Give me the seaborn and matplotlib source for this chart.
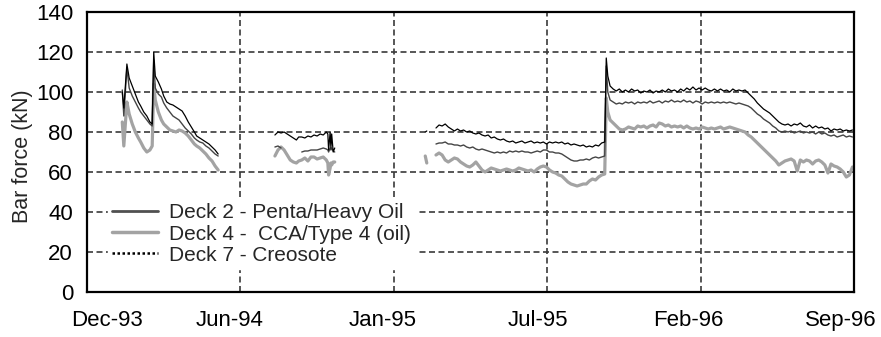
import numpy as np
import pandas as pd
import matplotlib
matplotlib.use("Agg")
import matplotlib.pyplot as plt
import matplotlib.dates as mdates
from matplotlib.lines import Line2D
from matplotlib.transforms import ScaledTranslation
import seaborn as sns

nan = np.nan

# ---------------- data ----------------
record_start = "1993-12-07"          # day 0 of the record / axis origin
axis_days = 1000                      # axis spans 1000 days
tick_step_days = 200

# sample days (days since record_start); NaN rows in the value lists break the lines
sample_day = (
    [46, 48, 52, 55, 59, 63, 67, 70, 74, 78, 82, 85, 87, 89, 93, 97, 100, 104,
     108, 112, 116, 120, 124, 128, 132, 136, 140, 143, 147, 151, 155, 159, 163, 167, 171]
    + [208]
    + [245, 249, 253, 257, 261, 265, 269, 273, 276, 280, 284, 288, 292, 296, 300,
       304, 308, 312, 314, 315, 317, 318, 319, 321, 323]
    + [380]
    + [441, 443]
    + [448]
    + list(range(455, 676, 4))
    + [677, 679]
    + list(range(682, 999, 4))
)

deck7_kn = (
    [100, 92, 114, 107, 103, 99, 95, 93, 90, 88, 85, 84, 120, 108, 105, 101.5, 98, 95,
     94, 93.5, 92.5, 91.5, 90.5, 88, 85, 82.5, 80, 78, 77, 76, 75, 74, 72.5, 71, 69]
    + [nan]
    + [78.5, 80, 79.5, 80, 79, 78, 77, 76, 77.5, 77.5, 77, 78, 77.5, 78.5, 78, 79,
       78.5, 80, 79, 71, 80, 72, 79, 70, 72]
    + [nan]
    + [80, 80.5]
    + [nan]
    + [82, 83.5, 83, 84, 82.5, 81.5, 80.5, 81.5, 80.5, 81, 80, 80.5, 79.5, 79, 79.5,
       78.5, 78, 78.5, 77, 77.5, 76.5, 76, 76.5, 75.5, 75, 75.5, 74.5, 75, 75.5, 74.5,
       75, 75.5, 74.5, 75, 74.5, 75, 74, 75, 74.5, 75, 74.5, 75, 74, 74.5, 73.5, 74,
       73.5, 73, 73.5, 72.5, 73, 72.5, 73.5, 73, 74.5, 75]
    + [117, 108]
    + [103, 101.5, 100.5, 101.5, 100, 101, 100, 101.5, 100.5, 101, 99.5, 100.5, 100,
       101, 99.5, 100.5, 100, 101, 100, 101.5, 100.5, 101, 100, 101.5, 100.5, 102, 101,
       102.5, 101, 102, 101, 102, 101, 100.5, 101.5, 100.5, 101.5, 100.5, 101, 100,
       101.5, 100.5, 101, 100.5, 101, 99.5, 98, 96.5, 94.5, 93, 91.5, 90.5, 89.5, 88,
       86.5, 85, 84, 83.5, 84, 83, 84, 83.5, 84.5, 83, 82.5, 83.5, 82, 83, 82, 82.5,
       81.5, 82, 80.5, 81.5, 81, 81.5, 80.5, 81, 80.5, 81]
)

deck2_kn = (
    [101, 88, 112, 102, 98, 95, 92, 90, 88, 86, 84, 83, 116, 102, 99, 97.5, 94.5, 92,
     90, 88, 87, 86, 84, 82, 80.5, 79, 77, 76, 75, 74.5, 73, 72, 70.5, 69, 68]
    + [nan]
    + [72.5, 73, 72, nan, nan, nan, nan, nan, nan, 70, 70.5, 70.5, 71, 71, 71, 71.5,
       72, 71.5, 71, 70, 72, 71, 72, 70.5, 70]
    + [nan]
    + [nan, nan]
    + [nan]
    + [74, 74.5, 74.5, 75, 74, 74, 73.5, 73.5, 73, 73.5, 72.5, 72, 72.5, 71.5, 71,
       71.5, 71, 70.5, 70, 69.5, 70, 69.5, 70, 69.5, 70.5, 70, 70.5, 70, 70.5, 70, 70,
       69.5, 70, 70.5, 70, 71, 71, 70, 70, 69.5, 69.5, 69, 68, 67, 66, 65.5, 65.5, 66,
       66, 66.5, 66, 67, 67.5, 67, 67.5, 68]
    + [113, 100]
    + [96, 95, 94, 94.5, 94, 95, 94.5, 95, 94, 95, 94.5, 95, 94.5, 95.5, 94.5, 95,
       95.5, 94.5, 95.5, 95, 96, 95, 95.5, 95, 96, 95, 95.5, 94.5, 95.5, 95, 94, 95,
       94.5, 95, 94.5, 95, 94.5, 95, 94.5, 95, 94.5, 94, 94.5, 94, 93.5, 93, 92, 90.5,
       89, 88, 86.5, 85.5, 84.5, 83, 82, 80.5, 80, 80.5, 80, 80.5, 79.5, 80, 80.5, 79.5,
       80, 79.5, 80, 79, 80, 79, 79.5, 78.5, 78, 78.5, 77.5, 78, 78.5, 77.5, 78, 77.5]
)

deck4_kn = (
    [85, 73, 95, 89, 84, 80, 77, 75, 72, 70, 71, 73, 104, 96, 90, 86, 84, 82.5, 81,
     80.5, 80, 81, 80.5, 79.5, 78, 76, 74, 73, 72, 70.5, 69, 67, 65.5, 63, 61]
    + [nan]
    + [68, 71, 72.5, 71, 68.5, 66, 65, 64.5, 65.5, 66, 67, 65.5, 67.5, 67.5, 66.5, 67,
       67.5, 66, 64.5, 58.5, 62, 64.5, 63.5, 65, 65]
    + [nan]
    + [68, 64.5]
    + [nan]
    + [68.5, 69.5, 68.5, 66, 65, 66, 67, 66.5, 65, 64, 63, 62.5, 63.5, 65, 63, 61, 60,
       61, 62, 61.5, 61, 60.5, 61, 61.5, 61, 60.5, 61, 62, 61.5, 61, 60.5, 61, 60, 61.5,
       62.5, 63, 62.5, 61, 60, 59.5, 58.5, 58, 56.5, 55, 54, 53.5, 53, 53.5, 54, 54,
       55.5, 56.5, 56, 57.5, 58.5, 59]
    + [97, 90]
    + [86, 84.5, 83, 81.5, 81, 81.5, 82.5, 82, 81.5, 83, 82.5, 83, 82, 83, 83.5, 82.5,
       84.5, 84, 83, 83.5, 82.5, 83, 82.5, 83, 82, 83, 82, 81.5, 82, 81.5, 82.5, 82,
       81.5, 82, 81.5, 82, 82.5, 81.5, 82, 82.5, 82, 81.5, 81, 80.5, 80, 78.5, 77.5, 76,
       74.5, 73, 71.5, 70, 68.5, 67, 65.5, 63.5, 64.5, 65.5, 66, 66.5, 65.5, 60.5, 66,
       65, 66, 65.5, 64, 65.5, 66, 65, 63.5, 59.5, 64, 63, 62.5, 61.5, 60, 57.5, 58.5, 62.5]
)

series_labels = ["Deck 2 - Penta/Heavy Oil", "Deck 4 -  CCA/Type 4 (oil)", "Deck 7 - Creosote"]
y_ticks = [0, 20, 40, 60, 80, 100, 120, 140]

# ---------------- style ----------------
sns.set_style("white")
plt.rcParams["font.family"] = ["Liberation Sans", "DejaVu Sans"]

fig = plt.figure(figsize=(8.81, 3.37), dpi=100)
ax = fig.add_axes([87 / 881, 1 - 292 / 337, 767 / 881, 280 / 337])

t0 = pd.Timestamp(record_start)
dates = t0 + pd.to_timedelta(sample_day, unit="D")

grid_kw = dict(color="#3a3a3a", linewidth=1.2, linestyle=(0, (3.6, 2.1)))
ax.set_axisbelow(True)

styles = [
    (deck4_kn, "#a3a3a3", 2.3, 2),
    (deck2_kn, "#454545", 1.0, 3),
    (deck7_kn, "#000000", 0.9, 4),
]
for vals, col, lw, z in styles:
    df = pd.DataFrame({"date": dates, "force": vals})
    df["seg"] = df["force"].isna().cumsum()
    df = df.dropna()
    sns.lineplot(data=df, x="date", y="force", units="seg", estimator=None,
                 color=col, linewidth=lw, ax=ax, legend=False, sort=False, zorder=z)

ax.set_xlim(t0, t0 + pd.Timedelta(days=axis_days))
ax.set_ylim(0, 140)
ax.set_yticks(y_ticks)
xt = pd.date_range(t0, periods=axis_days // tick_step_days + 1, freq=f"{tick_step_days}D")
ax.set_xticks(xt)
ax.xaxis.set_major_formatter(mdates.DateFormatter("%b-%y"))
ax.grid(True, **grid_kw)

ax.set_xlabel("")
ax.set_ylabel("Bar force (kN)", fontsize=15.5)
ax.yaxis.set_label_coords(-0.07, 0.485)

for s in ax.spines.values():
    s.set_visible(True)
    s.set_color("black")
    s.set_linewidth(1.6)

ax.tick_params(axis="y", direction="out", length=5, width=1.2, pad=5, labelsize=16, colors="black")
ax.tick_params(axis="x", direction="inout", length=10, width=1.5, pad=8, labelsize=16, colors="black")

handles = [
    Line2D([], [], color="#505050", linewidth=2.0),
    Line2D([], [], color="#a3a3a3", linewidth=2.5),
    Line2D([], [], color="black", linewidth=1.8, linestyle=(0, (1, 1))),
]
leg = ax.legend(handles, series_labels, loc="lower left", bbox_to_anchor=(0.027, 0.083),
                borderaxespad=0, frameon=True, fancybox=False, framealpha=1,
                facecolor="white", edgecolor="white", fontsize=15, borderpad=0.2,
                handlelength=2.2, handletextpad=0.55, labelspacing=0.1)

# date labels sit slightly off their tick marks in the original
fig.canvas.draw()
label_shift_px = [20, -11, -11, -9, -12, -13]
for lab, dx in zip(ax.get_xticklabels(), label_shift_px):
    lab.set_transform(lab.get_transform() + ScaledTranslation(dx / 100, 0, fig.dpi_scale_trans))

fig.savefig("out.png", dpi=100)
